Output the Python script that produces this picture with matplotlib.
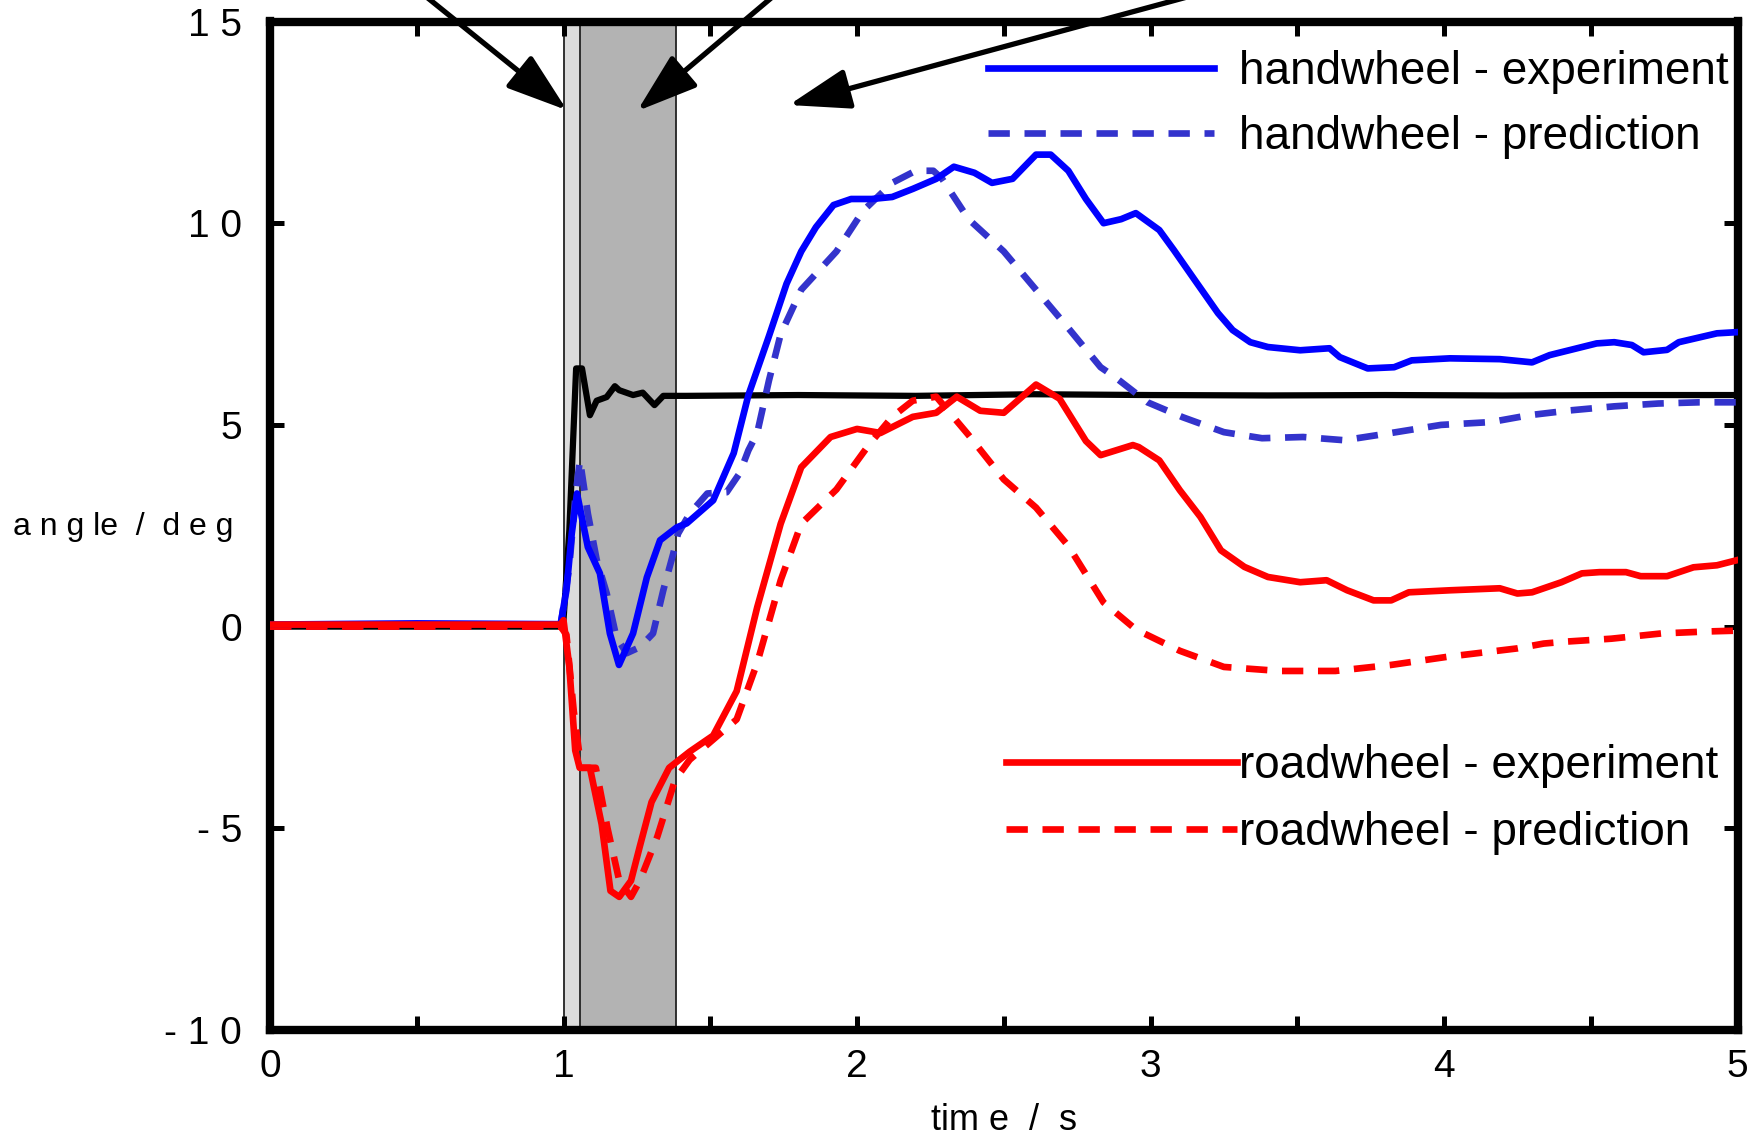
import matplotlib.pyplot as plt
from matplotlib.ticker import FixedLocator, FixedFormatter

# handwheel - experiment
t_hw_exp = [0, 0.5, 0.99, 1.01, 1.028, 1.046, 1.083, 1.124, 1.158, 1.189, 1.237, 1.284,
            1.329, 1.386, 1.42, 1.51, 1.58, 1.63, 1.70, 1.76, 1.81, 1.86, 1.92, 1.98,
            2.05, 2.12, 2.19, 2.27, 2.33, 2.40, 2.46, 2.53, 2.61, 2.66, 2.72, 2.78,
            2.84, 2.90, 2.95, 3.03, 3.08, 3.15, 3.23, 3.28, 3.34, 3.40, 3.51, 3.61,
            3.645, 3.74, 3.83, 3.89, 4.02, 4.19, 4.30, 4.36, 4.52, 4.58, 4.64, 4.68,
            4.76, 4.80, 4.93, 5.0]
hw_exp = [0.05, 0.08, 0.06, 0.9, 2.3, 3.3, 1.97, 1.32, -0.17, -0.95, -0.17, 1.22,
          2.14, 2.46, 2.56, 3.13, 4.30, 5.74, 7.2, 8.5, 9.3, 9.9, 10.45, 10.6,
          10.6, 10.65, 10.85, 11.1, 11.4, 11.25, 11.0, 11.1, 11.7, 11.7, 11.3, 10.6,
          10.0, 10.1, 10.25, 9.83, 9.33, 8.6, 7.77, 7.35, 7.05, 6.93, 6.85, 6.9,
          6.68, 6.4, 6.43, 6.6, 6.65, 6.63, 6.55, 6.73, 7.02, 7.05, 6.98, 6.8,
          6.86, 7.05, 7.27, 7.3]

# handwheel - prediction
t_hw_pred = [0, 0.5, 0.99, 1.02, 1.04, 1.056, 1.083, 1.113, 1.147, 1.18, 1.215, 1.26,
             1.305, 1.34, 1.374, 1.39, 1.43, 1.49, 1.556, 1.60, 1.63, 1.66, 1.70,
             1.74, 1.81, 1.93, 2.02, 2.12, 2.20, 2.26, 2.29, 2.38, 2.50, 2.61, 2.72,
             2.83, 2.88, 2.99, 3.11, 3.25, 3.38, 3.52, 3.66, 3.82, 3.99, 4.16, 4.29,
             4.43, 4.58, 4.73, 4.87, 5.0]
hw_pred = [0.0, 0.0, 0.0, 1.5, 3.2, 4.13, 2.8, 1.66, 0.83, -0.26, -0.66, -0.51,
           -0.17, 0.9, 1.81, 2.3, 2.8, 3.3, 3.33, 3.8, 4.37, 4.8, 6.1,
           7.25, 8.35, 9.3, 10.3, 11.0, 11.3, 11.3, 11.1, 10.1, 9.3, 8.35, 7.4,
           6.43, 6.18, 5.56, 5.19, 4.82, 4.67, 4.7, 4.62, 4.8, 5.0, 5.07, 5.24,
           5.36, 5.46, 5.53, 5.56, 5.56]

# roadwheel - experiment
t_rw_exp = [0, 0.5, 0.99, 1.0, 1.02, 1.04, 1.055, 1.09, 1.13, 1.16, 1.19, 1.23,
            1.26, 1.30, 1.36, 1.43, 1.51, 1.59, 1.66, 1.74, 1.81, 1.91, 2.0, 2.08,
            2.19, 2.27, 2.34, 2.42, 2.50, 2.61, 2.69, 2.78, 2.83, 2.94, 2.96, 3.03,
            3.10, 3.17, 3.24, 3.32, 3.40, 3.51, 3.60, 3.67, 3.76, 3.82, 3.88, 4.02,
            4.19, 4.25, 4.30, 4.40, 4.47, 4.53, 4.62, 4.67, 4.76, 4.85, 4.93, 5.0]
rw_exp = [0.05, 0.05, 0.05, 0.16, -1.0, -3.07, -3.5, -3.5, -4.9, -6.55, -6.7, -6.3,
          -5.45, -4.35, -3.5, -3.1, -2.7, -1.6, 0.48, 2.55, 3.95, 4.7, 4.9, 4.8,
          5.2, 5.3, 5.7, 5.35, 5.3, 6.0, 5.65, 4.6, 4.25, 4.5, 4.45, 4.12,
          3.38, 2.72, 1.89, 1.48, 1.23, 1.1, 1.15, 0.9, 0.65, 0.65, 0.85, 0.9,
          0.95, 0.82, 0.85, 1.1, 1.32, 1.35, 1.35, 1.25, 1.25, 1.47, 1.52, 1.65]

# roadwheel - prediction
t_rw_pred = [0, 0.5, 0.99, 1.01, 1.035, 1.06, 1.11, 1.15, 1.19, 1.23, 1.26, 1.32,
             1.38, 1.43, 1.51, 1.59, 1.66, 1.74, 1.81, 1.93, 2.04, 2.12, 2.19, 2.27,
             2.38, 2.50, 2.61, 2.72, 2.84, 2.95, 3.10, 3.25, 3.44, 3.63, 3.82, 4.01,
             4.25, 4.34, 4.42, 4.57, 4.74, 4.9, 5.0]
rw_pred = [0.0, 0.0, 0.0, -0.2, -2.1, -3.5, -3.5, -5.0, -6.3, -6.7, -6.3, -5.2,
           -3.8, -3.3, -2.8, -2.3, -0.9, 1.15, 2.55, 3.4, 4.5, 5.2, 5.6, 5.7,
           4.75, 3.65, 2.95, 2.0, 0.6, -0.07, -0.6, -1.0, -1.1, -1.1, -0.95, -0.75,
           -0.54, -0.42, -0.37, -0.3, -0.17, -0.12, -0.1]

# black reference signal
t_ref = [0, 0.5, 0.99, 1.0, 1.02, 1.043, 1.063, 1.09, 1.113, 1.147, 1.175, 1.19,
         1.237, 1.27, 1.31, 1.34, 1.42, 1.8, 2.2, 2.6, 3.0, 3.4, 3.8,
         4.2, 4.6, 5.0]
ref = [0.0, 0.0, 0.0, 0.16, 2.4, 6.4, 6.4, 5.24, 5.6, 5.69, 5.96, 5.86,
       5.74, 5.8, 5.49, 5.72, 5.72, 5.74, 5.72, 5.76, 5.74, 5.73, 5.74,
       5.73, 5.74, 5.74]

phase_edges = [1.0, 1.055, 1.385]
arrow_tips = [(1.012, 12.80), (1.251, 12.78), (1.768, 12.93)]
arrow_tails = [(0.313, 16.9), (1.922, 16.9), (3.78, 16.9)]

x_ticks = [0, 1, 2, 3, 4, 5]
x_ticklabels = ['0', '1', '2', '3', '4', '5']
y_ticks = [-10, -5, 0, 5, 10, 15]
y_ticklabels = ['- 1 0', '- 5', '0', '5', '1 0', '1 5']

plt.rcParams['font.family'] = ['Liberation Sans', 'DejaVu Sans']

fig = plt.figure(figsize=(17.47, 11.37), dpi=100)
ax = fig.add_axes([270 / 1747, 1 - 1030 / 1137, 1467.5 / 1747, 1008.5 / 1137])
ax.set_xlim(0, 5)
ax.set_ylim(-10, 15)

# shaded phases
ax.axvspan(phase_edges[0], phase_edges[1], color='#dcdcdc', lw=0, zorder=0)
ax.axvspan(phase_edges[1], phase_edges[2], color='#b3b3b3', lw=0, zorder=0)
for e in phase_edges:
    ax.axvline(e, color='#222222', lw=1.3, zorder=0.5)

lw = 4.8
dash = (3.2, 2.2)
ax.plot(t_ref, ref, color='black', lw=4.5, zorder=2)
l_hwp, = ax.plot(t_hw_pred, hw_pred, color='#3333cc', lw=lw, dashes=dash, zorder=3)
l_rwp, = ax.plot(t_rw_pred, rw_pred, color='#ff0000', lw=lw, dashes=dash, zorder=3)
l_hwe, = ax.plot(t_hw_exp, hw_exp, color='#0000ff', lw=lw, zorder=4)
l_rwe, = ax.plot(t_rw_exp, rw_exp, color='#ff0000', lw=lw, zorder=4)

for tip, tail in zip(arrow_tips, arrow_tails):
    ax.annotate('', xy=tip, xytext=tail, annotation_clip=False,
                arrowprops=dict(arrowstyle='-|>,head_length=1.5,head_width=0.5',
                                mutation_scale=25, lw=3.8, color='black',
                                shrinkA=0, shrinkB=0))

leg1 = ax.legend([l_hwe, l_hwp], ['handwheel - experiment', 'handwheel - prediction'],
                 loc='upper left', bbox_to_anchor=(988 / 1747, 1 - 50 / 1137),
                 bbox_transform=fig.transFigure, frameon=False, fontsize=33,
                 handlelength=4.93, handletextpad=0.55, labelspacing=0.45,
                 borderpad=0, borderaxespad=0)
ax.add_artist(leg1)
ax.legend([l_rwe, l_rwp], ['roadwheel - experiment', 'roadwheel - prediction'],
          loc='upper left', bbox_to_anchor=(1006 / 1747, 1 - 744 / 1137),
          bbox_transform=fig.transFigure, frameon=False, fontsize=33,
          handlelength=5.04, handletextpad=0.04, labelspacing=0.5,
          borderpad=0, borderaxespad=0)

for s in ax.spines.values():
    s.set_linewidth(6)

ax.xaxis.set_major_locator(FixedLocator(x_ticks))
ax.xaxis.set_major_formatter(FixedFormatter(x_ticklabels))
ax.xaxis.set_minor_locator(FixedLocator([0.5, 1.5, 2.5, 3.5, 4.5]))
ax.yaxis.set_major_locator(FixedLocator(y_ticks))
ax.yaxis.set_major_formatter(FixedFormatter(y_ticklabels))
ax.tick_params(which='both', direction='in', length=10, width=3.6,
               top=True, right=True)
ax.tick_params(axis='x', which='major', pad=14, labelsize=28)
ax.tick_params(axis='y', which='major', pad=20, labelsize=28)

ax.set_xlabel('tim e  /  s', fontsize=26)
ax.xaxis.set_label_coords(0.5, -0.09)
ax.xaxis.label.set_verticalalignment('center')
ax.set_ylabel('a n g le  /  d e g', fontsize=23, rotation=0)
ax.yaxis.set_label_coords(-0.1, 0.499)
ax.yaxis.label.set_verticalalignment('center')
ax.yaxis.label.set_horizontalalignment('center')

fig.savefig('out.png', dpi=100)
